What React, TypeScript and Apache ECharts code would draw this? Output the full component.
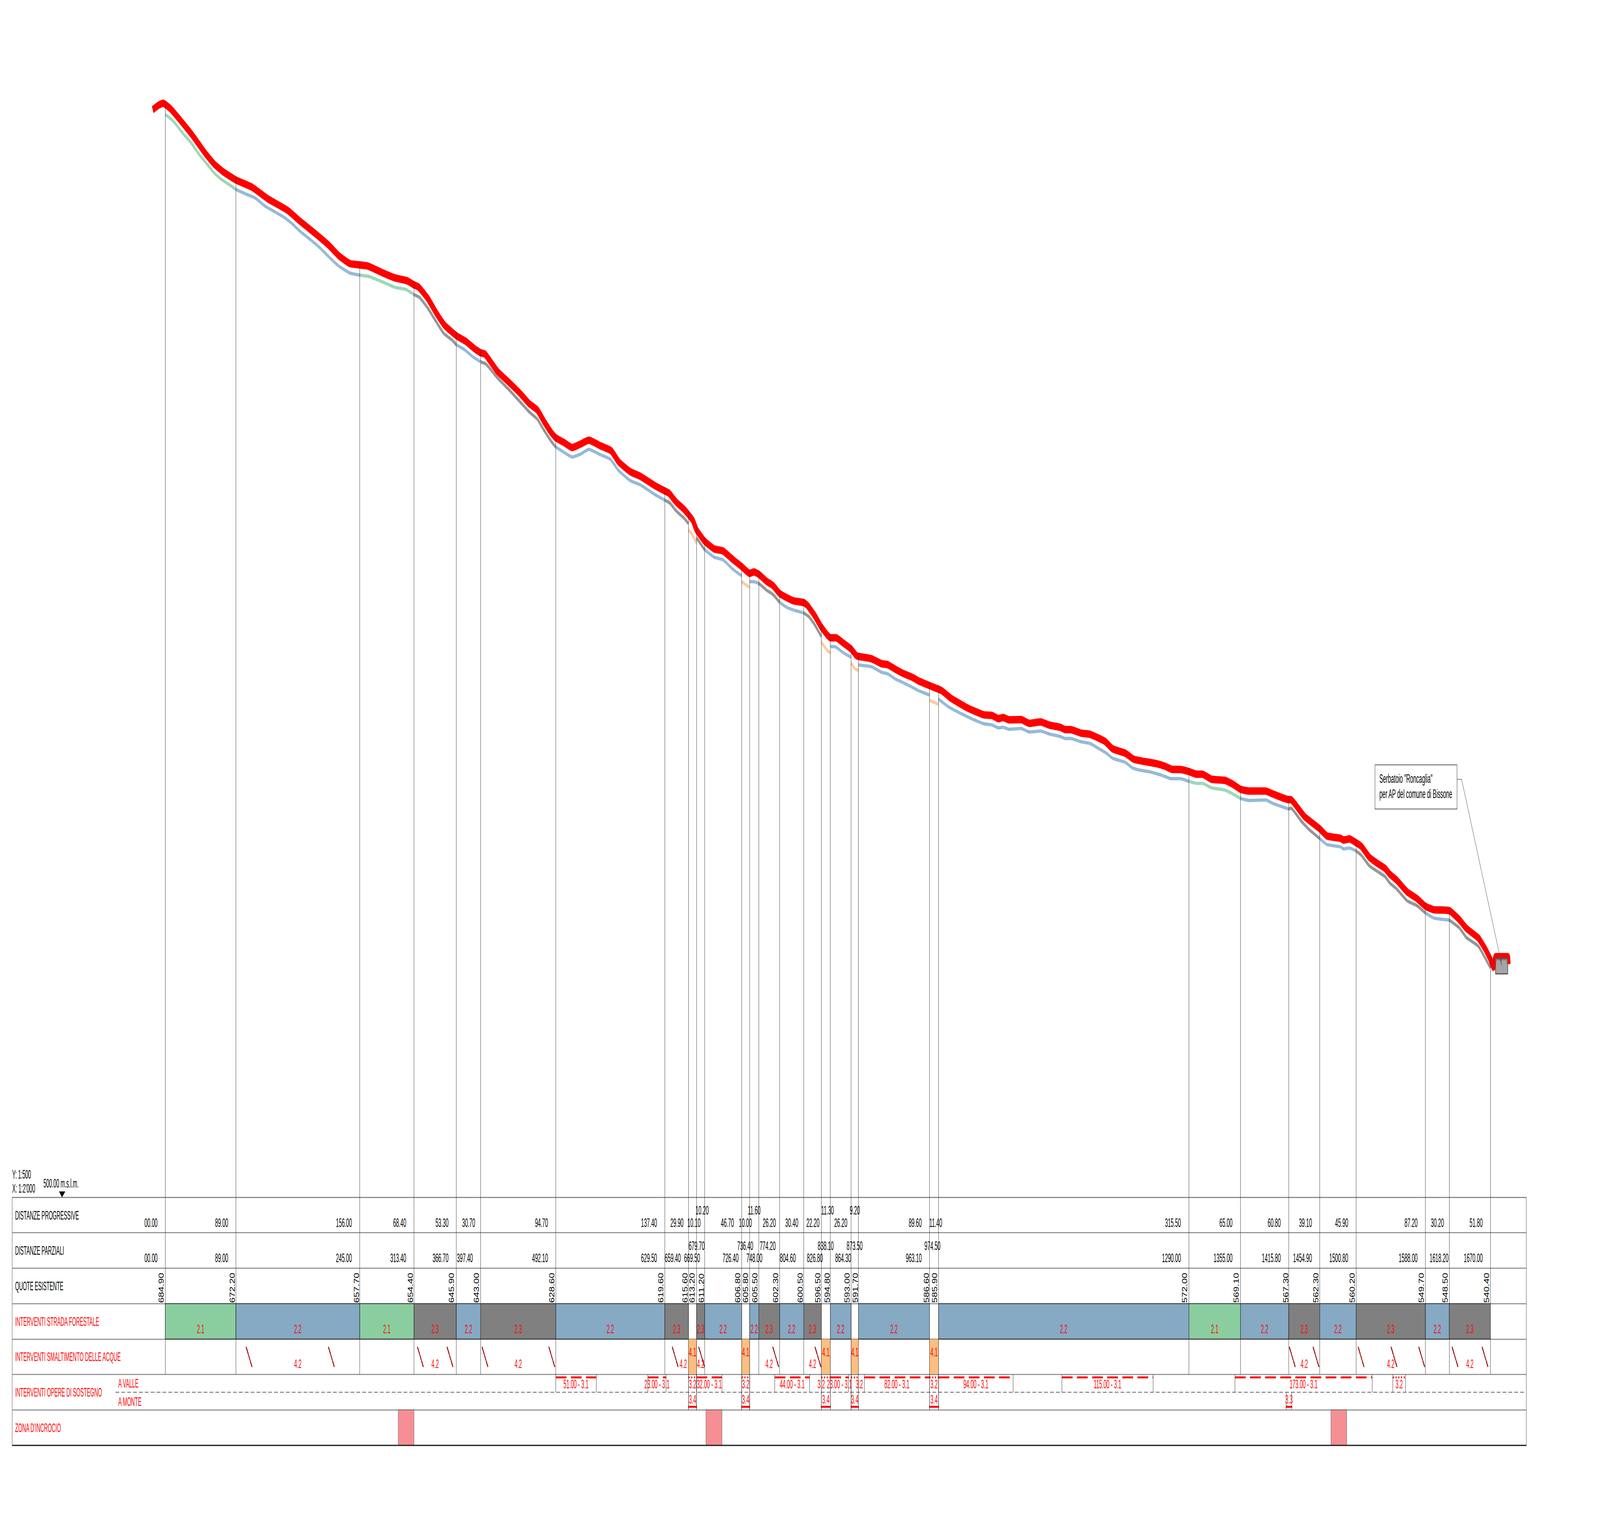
import React, { useEffect, useRef } from "react";
import * as echarts from "echarts";

// ---------- stations and table values ----------
const stations = [0, 89, 245, 313.4, 366.7, 397.4, 492.1, 629.5, 659.4, 669.5, 679.7, 726.4, 736.4, 748, 774.2, 804.6, 826.8, 838.1, 864.3, 873.5, 963.1, 974.5, 1290, 1355, 1415.8, 1454.9, 1500.8, 1588, 1618.2, 1670];
const rowOneLabels = ["00.00", "89.00", "156.00", "68.40", "53.30", "30.70", "94.70", "137.40", "29.90", "10.10", "10.20", "46.70", "10.00", "11.60", "26.20", "30.40", "22.20", "11.30", "26.20", "9.20", "89.60", "11.40", "315.50", "65.00", "60.80", "39.10", "45.90", "87.20", "30.20", "51.80"];
const rowTwoLabels = ["00.00", "89.00", "245.00", "313.40", "366.70", "397.40", "492.10", "629.50", "659.40", "669.50", "679.70", "726.40", "736.40", "748.00", "774.20", "804.60", "826.80", "838.10", "864.30", "873.50", "963.10", "974.50", "1290.00", "1355.00", "1415.80", "1454.90", "1500.80", "1588.00", "1618.20", "1670.00"];
const quoteLabels = ["684.90", "672.20", "657.70", "654.40", "645.90", "643.00", "628.60", "619.60", "615.60", "613.20", "611.20", "606.80", "605.80", "605.50", "602.30", "600.50", "596.50", "594.80", "593.00", "591.70", "586.60", "585.90", "572.00", "569.10", "567.30", "562.30", "560.20", "549.70", "548.50", "540.40"];
const roadTypes = ["2.1", "2.2", "2.1", "2.3", "2.2", "2.3", "2.2", "2.3", "", "2.3", "2.2", "", "2.2", "2.3", "2.2", "2.3", "", "2.2", "", "2.2", "", "2.2", "2.1", "2.2", "2.3", "2.2", "2.3", "2.2", "2.3"];
const rowTitles = ["DISTANZE PROGRESSIVE", "DISTANZE PARZIALI", "QUOTE ESISTENTE", "INTERVENTI STRADA FORESTALE", "INTERVENTI SMALTIMENTO DELLE ACQUE", "INTERVENTI OPERE DI SOSTEGNO", "ZONA D'INCROCIO"];
const orificeFrom = [659.4, 726.4, 826.8, 864.3, 963.1];
const orificeTo = [669.5, 736.4, 838.1, 873.5, 974.5];
const drainSlashes = [102, 205.7, 317.9, 355.2, 399.3, 483.5, 639, 672.3, 765.7, 818.9, 1416.7, 1446.6, 1503.4, 1544.9, 1579.8, 1621.8, 1659.6];
const drainLabels = [167, 340, 444.75, 652.7, 674.6, 761, 815.7, 1435.35, 1544.4, 1644.1];
const wallFrom = [492.1, 608.1, 669.5, 768, 838.1, 881, 974.5, 1129.9, 1348];
const wallLength = [51, 23, 32, 44, 23, 82, 94, 115, 173];
const dottedFrom = [659.4, 726.4, 826.8, 864.3, 963.1, 1547];
const dottedTo = [669.5, 736.4, 838.1, 873.5, 974.5, 1563];
const dottedLabelAt = [664.45, 731.4, 826.6, 874.7, 968.8, 1555];
const monteFrom = [659.4, 726.4, 826.8, 864.3, 963.1, 1412.6];
const monteTo = [669.5, 736.4, 838.1, 873.5, 974.5, 1419.6];
const monteLabels = ["3.4", "3.4", "3.4", "3.4", "3.4", "3.3"];
const zoneFrom = [293.6, 681.3, 1469];
const zoneTo = [313.4, 701.5, 1488.8];

// ---------- profile readings (distance in m, elevation in m) ----------
const groundDist = [0, 9.9, 22.1, 32.4, 42.5, 52.5, 61.6, 70.8, 80.8, 89, 101.2, 113.4, 125.5, 137.6, 149.6, 159.9, 170, 182.1, 194.3, 206.5, 218.5, 232.7, 245, 257, 269.2, 281.4, 289, 303.6, 313.4, 320.5, 330.8, 341.4, 350.7, 362.3, 366.7, 376.9, 387.4, 397.4, 404.1, 418.6, 433.4, 448, 458.5, 468.9, 477.4, 486.6, 492.1, 502.5, 512.8, 523.4, 533.7, 548.4, 561, 571.6, 586.1, 598.5, 617, 629.5, 635.9, 643.3, 654.4, 659.4, 669.5, 679.7, 691.6, 702.8, 715.7, 726.4, 736.4, 741.7, 748, 758.3, 765.7, 774.2, 782.4, 791.7, 804.6, 811.2, 818.6, 826.8, 838.1, 843.8, 853, 864.3, 873.5, 890, 902.8, 910.4, 919.7, 929.2, 938.8, 949.1, 963.1, 974.5, 987.7, 1000.9, 1016.2, 1031.3, 1041.7, 1050.1, 1055.8, 1063.4, 1078.4, 1088.9, 1103, 1114.4, 1127.6, 1134.3, 1140.9, 1154.1, 1165.5, 1176.9, 1186.1, 1193.8, 1209.9, 1218.4, 1225.8, 1241, 1256.2, 1267.5, 1278.7, 1290, 1299.6, 1307.1, 1318.4, 1335.6, 1344.8, 1355, 1365.7, 1386.5, 1395.9, 1415.8, 1418.6, 1424.2, 1431.9, 1441.4, 1454.9, 1463.9, 1481.1, 1484.8, 1492.4, 1500.8, 1507.5, 1517.3, 1528, 1537.2, 1543.3, 1551.6, 1565.2, 1577.4, 1588, 1598.7, 1618.2, 1630.6, 1639.7, 1654.9, 1670];
const groundElev = [684.9, 683.8, 681.7, 680.1, 678.15, 676.5, 675, 673.9, 673, 672.2, 671.45, 670.75, 669.4, 668.45, 667.5, 666.4, 665.1, 663.8, 662.4, 660.75, 659.25, 658.05, 657.7, 657.45, 656.8, 656.1, 655.65, 655.25, 654.4, 653.9, 652.1, 649.8, 647.85, 646.6, 645.9, 645.1, 643.9, 643, 642.65, 640.3, 638.25, 636.1, 634.55, 633.3, 631.4, 629.5, 628.6, 627.7, 626.9, 627.4, 628.2, 627.3, 626.5, 624.55, 622.9, 622.2, 620.55, 619.6, 619.1, 617.85, 616.45, 615.6, 613.2, 611.2, 609.95, 609.5, 607.85, 606.8, 605.8, 605.8, 605.5, 604.3, 603.65, 602.3, 601.5, 601, 600.5, 599.85, 598.45, 596.5, 594.8, 594.8, 593.9, 593, 591.7, 591.4, 590.45, 590.2, 589.35, 588.75, 588.1, 587.35, 586.6, 585.9, 584.55, 583.6, 582.6, 581.75, 581.55, 581.05, 581.15, 580.8, 580.95, 580.35, 580.5, 580, 579.6, 579.25, 579.25, 578.7, 578.4, 577.5, 576.75, 575.9, 575.2, 574.3, 573.95, 573.6, 573, 572.45, 572.45, 572, 571.65, 571.65, 570.9, 570.5, 569.9, 569.1, 568.75, 568.85, 568.25, 567.3, 567.45, 566.6, 565.2, 563.85, 562.3, 561.3, 560.9, 560.55, 560.7, 560.2, 559.45, 557.7, 556.7, 555.85, 554.75, 553.8, 551.75, 550.95, 549.7, 548.85, 548.5, 547.2, 545.55, 544.05, 540.4];
const bridgeDist = [[659.4, 664.7, 669.5], [726.4, 736.4], [826.8, 832.7, 838.1], [864.3, 868.9, 873.5], [963.1, 974.5]];
const bridgeElev = [[614.6, 613.65, 612.3], [605.8, 604.8], [595.55, 594.4, 593.7], [592, 591.1, 590.75], [585.7, 585.05]];
const redDist = [-15.9, -8.2, -2.8, 7, 22.1, 34.3, 50.5, 61.6, 72.8, 89, 109.1, 129.5, 153.8, 170, 190.2, 206.5, 218.5, 232.7, 254.9, 275.3, 289, 304.6, 313.4, 319.4, 330.8, 341.4, 351.7, 366.7, 379, 389.6, 397.4, 403.1, 418.6, 433.4, 448, 458.5, 468.9, 477.4, 486.6, 492.1, 502.5, 512.8, 523.4, 533.7, 548.4, 562, 571.6, 586.1, 598.5, 617, 629.5, 635, 643.3, 654.4, 664.7, 669.5, 679.7, 691.6, 702.8, 715.7, 726.4, 736.4, 741.7, 748, 758.3, 765.7, 774.2, 782.4, 791.7, 804.6, 809.4, 818.6, 826.8, 838.1, 845.6, 853, 864.3, 870.7, 873.5, 890, 902.8, 910.4, 919.7, 929.2, 942.4, 949.1, 963.1, 978.4, 989.7, 1010.5, 1031.3, 1041.7, 1050.1, 1055.8, 1063.4, 1078.4, 1088.9, 1103, 1114.4, 1127.6, 1134.3, 1140.9, 1154.1, 1165.5, 1184.3, 1193.8, 1209.9, 1220.2, 1229.8, 1248.5, 1259.9, 1269.4, 1278.7, 1290, 1299.6, 1307.1, 1318.4, 1335.6, 1344.8, 1354.9, 1365.7, 1386.5, 1395.9, 1415.6, 1418.6, 1424.2, 1435.6, 1454.9, 1463.9, 1481.1, 1484.8, 1492.4, 1500.7, 1507.5, 1517.3, 1528, 1537.2, 1543.3, 1551.6, 1565.2, 1577.4, 1588, 1598.7, 1618.2, 1630.6, 1639.7, 1654.9, 1663.9, 1670, 1673.8, 1674.9, 1676.4, 1692, 1692.8];
const redElev = [685.7, 686.5, 686.8, 685.8, 683.4, 681.35, 678.3, 676.5, 675.2, 673.8, 672.6, 670.6, 668.7, 666.8, 664.6, 662.7, 661, 659.65, 659.25, 658, 657.25, 656.75, 656.05, 655.65, 653.75, 651.3, 649.25, 647.45, 646.45, 645.25, 644.55, 644.3, 641.4, 639.5, 637.55, 635.95, 634.85, 632.9, 631, 630.15, 629.35, 628.5, 629.1, 629.75, 628.8, 627.95, 626.05, 624.4, 623.65, 622.05, 621.15, 620.75, 619.35, 617.95, 616.2, 614.55, 612.65, 611.35, 611, 609.5, 608.35, 607.2, 607.45, 607.05, 605.8, 605.15, 603.8, 603.15, 602.55, 602.25, 601.75, 600, 598.1, 596.3, 596.3, 595.55, 594.4, 593.3, 593.15, 592.75, 591.9, 591.75, 591, 590.3, 589.55, 589, 588.2, 587.35, 586.1, 584.45, 583.25, 583.15, 582.6, 582.8, 582.4, 582.45, 581.8, 582.05, 581.5, 581.15, 580.75, 580.75, 580.15, 579.95, 578.75, 577.5, 576.75, 575.75, 575.45, 575, 574.55, 574, 574, 573.65, 573.2, 573.2, 572.35, 572.15, 571.55, 570.65, 570.35, 570.35, 569.85, 568.9, 568.9, 568.05, 566.05, 563.95, 562.75, 562.35, 562.05, 562.25, 561.6, 560.95, 559.15, 558.05, 557.25, 556.25, 555.3, 553.25, 552.15, 550.85, 550.25, 550.1, 548.6, 547.1, 545.45, 543.5, 541.85, 540.5, 541.6, 542.3, 542.3, 541.05];

// ---------- layout constants (pixels, not data) ----------
const W = 7622, H = 3909;
const PX_PER_M = 3.78, PX_PER_ELEV = 15.12;
const ORIGIN_X = 787.5, ORIGIN_Y = 293, ORIGIN_ELEV = 684.9;
const TABLE = { left: 58, right: 7271, top: 3065, height: 635 };
const TABLE_TOP_ELEV = ORIGIN_ELEV - (TABLE.top - ORIGIN_Y) / PX_PER_ELEV;
const FONT = "Liberation Sans";
const EM = 32, NARROW = 0.78;
const rowOneNudge = [-37, -37, -37, -37, -37, -26, -37, -37, -24, 19, 19, -37, 11, 8, -18, -26, -9, 17, -18, 7, -37, 17, -38, -38, -38, -37, -38, -37, -26, -37];
const rowOneUp = [10, 13, 17, 19];
const rowTwoNudge = [-37, -37, -37, -37, -37, -37, -37, -37, -37, 17, 0, -15, 17, 17, -19, -38, 7, 16, 0, 20, -37, 9, -38, -38, -38, -37, -38, -37, -4, -37];
const rowTwoUp = [10, 12, 14, 17, 19, 21];
const quoteNudge = [-6.5, -5, -3, -5, -10, -8, -7, -7, -5, -8, -2, -6, -6, -6, -7, -3.7, -4.5, -3, -6.6, -3, -3, -6, -8, -7, -2, -6, -6, -6, -7, -6];
const roadFill: Record<string, string> = { "2.1": "#8ACE9F", "2.2": "#86A9C4", "2.3": "#808080" };
const lineColor: Record<string, string> = { "2.1": "#2FA866", "2.2": "#1F6AA5", "2.3": "#1a1a1a", bridge: "#F5922F" };
const RED = "#ff0000";

const redAt = (d: number) => {
  for (let i = 1; i < redDist.length; i++) {
    if (d <= redDist[i]) {
      const t = (d - redDist[i - 1]) / (redDist[i] - redDist[i - 1]);
      return redElev[i - 1] + t * (redElev[i] - redElev[i - 1]);
    }
  }
  return redElev[redElev.length - 1];
};

function segmentData(kind: string) {
  const out: any[] = [];
  if (kind === "bridge") {
    bridgeDist.forEach((ds, k) => {
      ds.forEach((d, i) => out.push([d, bridgeElev[k][i]]));
      out.push(["-", "-"]);
    });
    return out;
  }
  roadTypes.forEach((t, k) => {
    if (t !== kind) return;
    groundDist.forEach((d, i) => {
      if (d >= stations[k] && d <= stations[k + 1]) out.push([d, groundElev[i]]);
    });
    out.push(["-", "-"]);
  });
  return out;
}

type Txt = { d: number; row: number; dx?: number; dy: number; text: string; fill?: string; align?: string; rot?: number; em?: number; sx?: number };

function buildTexts(): Txt[] {
  const out: Txt[] = [];
  const lab = -189.3;
  rowTitles.forEach((t, i) => out.push({ d: lab, row: i === 6 ? 6 : i, dy: 57, text: t, fill: i < 3 ? "#000" : RED, align: "left", sx: 0.765 }));
  out.push({ d: -59.3, row: 5, dy: 33.4, text: "A VALLE", fill: RED, align: "left", sx: 0.765 });
  out.push({ d: -59.3, row: 5, dy: 81, text: "A MONTE", fill: RED, align: "left", sx: 0.765 });
  stations.forEach((d, i) => {
    out.push({ d, row: 0, dx: rowOneNudge[i], dy: rowOneUp.includes(i) ? 44 : 76, text: rowOneLabels[i], align: "right" });
    out.push({ d, row: 1, dx: rowTwoNudge[i], dy: rowTwoUp.includes(i) ? 45 : 75.5, text: rowTwoLabels[i], align: "right" });
    out.push({ d, row: 3, dx: quoteNudge[i], dy: -2, text: quoteLabels[i], align: "left", rot: Math.PI / 2, em: 35, sx: 0.72 });
  });
  roadTypes.forEach((t, k) => {
    if (t) out.push({ d: (stations[k] + stations[k + 1]) / 2, row: 3, dy: 76, text: t, fill: RED, align: "center" });
  });
  orificeFrom.forEach((a, i) => out.push({ d: (a + orificeTo[i]) / 2, row: 4, dy: 45, text: "4.1", fill: RED, align: "center" }));
  drainLabels.forEach((d) => out.push({ d, row: 4, dy: 75, text: "4.2", fill: RED, align: "center" }));
  wallFrom.forEach((a, i) => out.push({ d: a + wallLength[i] / 2, row: 5, dy: 35.5, text: `${wallLength[i].toFixed(2)} - 3.1`, fill: RED, align: "center" }));
  dottedLabelAt.forEach((d) => out.push({ d, row: 5, dy: 35.5, text: "3.2", fill: RED, align: "center" }));
  monteFrom.forEach((a, i) => out.push({ d: (a + monteTo[i]) / 2, row: 5, dy: 75, text: monteLabels[i], fill: RED, align: "center" }));
  return out;
}

function custom(grid: number, data: any[], z: number, render: (i: number, api: any) => any) {
  return {
    type: "custom",
    coordinateSystem: "cartesian2d",
    xAxisIndex: grid,
    yAxisIndex: grid,
    silent: true,
    z,
    data: data.map((_, i) => [i, i]),
    renderItem: (p: any, api: any) => render(p.dataIndex, api),
  };
}
const seg = (a: number[], b: number[], stroke: string, lineWidth: number, extra: any = {}) => ({
  type: "line",
  shape: { x1: a[0], y1: a[1], x2: b[0], y2: b[1] },
  style: { stroke, lineWidth, ...extra },
});
const box = (api: any, a: number, b: number, r0: number, r1: number, fill: string, stroke: string, lineWidth: number) => {
  const p = api.coord([a, r0]);
  const q = api.coord([b, r1]);
  return { type: "rect", shape: { x: p[0], y: p[1], width: q[0] - p[0], height: q[1] - p[1] }, style: { fill, stroke, lineWidth } };
};

export default function App() {
  const ref = useRef<HTMLDivElement>(null);
  // The browser window can come out narrower than asked for (it was capped at 4096 wide when this
  // was written), and only the window is photographed. The 7622x3909 drawing is fitted into
  // whatever window there is, so that nothing falls off the edge; at full size this is the identity.
  const fitX = Math.min(1, window.innerWidth / W);
  const fitY = Math.min(1, window.innerHeight / H);
  useEffect(() => {
    const chart = echarts.init(ref.current!, undefined, { renderer: "svg", width: W, height: H });
    const texts = buildTexts();
    const cells = roadTypes.map((t, k) => ({ t, a: stations[k], b: stations[k + 1] })).filter((c) => c.t);

    const lineLayers: any[] = [];
    ["2.1", "2.2", "2.3", "bridge"].forEach((k) => {
      const data = segmentData(k);
      const base = { type: "line", xAxisIndex: 0, yAxisIndex: 0, data, showSymbol: false, silent: true, smooth: 0.15, connectNulls: false, z: 2 };
      lineLayers.push({ ...base, lineStyle: { color: lineColor[k], width: 8.5, opacity: 0.3 } });
      lineLayers.push({ ...base, lineStyle: { color: lineColor[k], width: 8.5, opacity: 0.75, type: [1.4, 3.2] } });
    });

    const SLASH_TOP = 4.233, SLASH_BOTTOM = 4.773, SLASH_RUN = 7.1;

    chart.setOption({
      animation: false,
      backgroundColor: "#fff",
      grid: [
        { left: 0, top: 0, width: W, height: H, containLabel: false },
        { left: TABLE.left, top: TABLE.top, width: TABLE.right - TABLE.left, height: TABLE.height, show: true, borderColor: "#6a6a6a", borderWidth: 2, backgroundColor: "transparent" },
      ],
      xAxis: [
        { type: "value", gridIndex: 0, show: false, min: -ORIGIN_X / PX_PER_M, max: (W - ORIGIN_X) / PX_PER_M },
        { type: "value", gridIndex: 1, show: false, min: (TABLE.left - ORIGIN_X) / PX_PER_M, max: (TABLE.right - ORIGIN_X) / PX_PER_M },
      ],
      yAxis: [
        { type: "value", gridIndex: 0, show: false, min: ORIGIN_ELEV + (ORIGIN_Y - H) / PX_PER_ELEV, max: ORIGIN_ELEV + ORIGIN_Y / PX_PER_ELEV },
        {
          type: "value", gridIndex: 1, inverse: true, min: 0, max: 7, interval: 1,
          axisLine: { show: false }, axisTick: { show: false }, axisLabel: { show: false },
          splitLine: { show: true, lineStyle: { color: "#858585", width: 2.5 } },
        },
      ],
      series: [
        ...lineLayers,
        // design line
        {
          type: "line", xAxisIndex: 0, yAxisIndex: 0, showSymbol: false, silent: true, smooth: 0.15, z: 3,
          data: redDist.map((d, i) => [d, redElev[i]]),
          lineStyle: { color: RED, width: 19, join: "round", cap: "butt" },
        },
        // poles from the design line down to the table
        custom(0, stations, 4, (i, api) => seg(api.coord([stations[i], redAt(stations[i]) + 0.6]), api.coord([stations[i], TABLE_TOP_ELEV]), "#333", 1.6)),
        // road cells
        custom(1, cells, 2, (i, api) => box(api, cells[i].a, cells[i].b, 3, 4, roadFill[cells[i].t], "#333", 2)),
        // orifice cells
        custom(1, orificeFrom, 2, (i, api) => box(api, orificeFrom[i], orificeTo[i], 4, 5, "#FDBF80", "#7a6a55", 1.5)),
        // crossing zones
        custom(1, zoneFrom, 2, (i, api) => box(api, zoneFrom[i], zoneTo[i], 6, 7, "#F58F94", "#555", 1.5)),
        // poles in the table
        custom(1, stations, 3, (i, api) => {
          const deep = orificeFrom.includes(stations[i]) || orificeTo.includes(stations[i]);
          return seg(api.coord([stations[i], 0]), api.coord([stations[i], deep ? 6 : 5]), "#333", 1.6);
        }),
        // bottom line and dashed divider
        custom(1, [0], 3, (_i, api) => {
          const xMin = (TABLE.left - ORIGIN_X) / PX_PER_M, xMax = (TABLE.right - ORIGIN_X) / PX_PER_M;
          return {
            type: "group",
            children: [
              seg(api.coord([xMin, 7]), api.coord([xMax, 7]), "#222", 3),
              seg(api.coord([(550 - ORIGIN_X) / PX_PER_M, 5.5]), api.coord([xMax, 5.5]), "#333", 1.5, { lineDash: [18, 10] }),
            ],
          };
        }),
        // drainage slashes
        custom(1, drainSlashes, 4, (i, api) =>
          seg(api.coord([drainSlashes[i], SLASH_TOP]), api.coord([drainSlashes[i] + SLASH_RUN, SLASH_BOTTOM]), "#990000", 4, { lineDash: [20, 4, 2, 3, 2, 3, 2, 4, 20, 200], lineCap: "round" })
        ),
        // retaining walls, valley side
        custom(1, wallFrom, 4, (i, api) => {
          const a = wallFrom[i], b = a + wallLength[i];
          const top = api.coord([a, 5]), top2 = api.coord([b, 5]);
          return {
            type: "group",
            children: [
              seg([top[0], top[1] + 7.5], [top2[0], top2[1] + 7.5], RED, 5, { lineDash: [51, 21] }),
              seg(top, api.coord([a, 5.5]), "#222", 1.5),
              seg(top2, api.coord([b, 5.5]), "#222", 1.5),
            ],
          };
        }),
        custom(1, dottedFrom, 4, (i, api) => {
          const top = api.coord([dottedFrom[i], 5]), top2 = api.coord([dottedTo[i], 5]);
          return {
            type: "group",
            children: [
              seg([top[0], top[1] + 7.5], [top2[0] + 2, top2[1] + 7.5], RED, 5, { lineDash: [5, 8] }),
              seg(top, api.coord([dottedFrom[i], 5.5]), "#222", 1.5),
              seg(top2, api.coord([dottedTo[i], 5.5]), "#222", 1.5),
            ],
          };
        }),
        // retaining walls, uphill side
        custom(1, monteFrom, 4, (i, api) => {
          const bot = api.coord([monteFrom[i], 6]), bot2 = api.coord([monteTo[i], 6]);
          return {
            type: "group",
            children: [
              seg([bot[0] - 2, bot[1] - 8], [bot2[0] + 2, bot2[1] - 8], RED, 5),
              seg(api.coord([monteFrom[i], 5.5]), bot, "#222", 1.5),
              seg(api.coord([monteTo[i], 5.5]), bot2, "#222", 1.5),
            ],
          };
        }),
        // all table texts
        custom(1, texts, 6, (i, api) => {
          const t = texts[i];
          const p = api.coord([t.d, t.row]);
          const em = t.em ?? EM;
          const rot = t.rot ?? 0;
          const shift = 0.36 * em;
          return {
            type: "text",
            x: p[0] + (t.dx ?? 0) - (rot ? shift : 0),
            y: p[1] + t.dy - (rot ? 0 : shift),
            rotation: rot,
            scaleX: t.sx ?? NARROW,
            style: { text: t.text, x: 0, y: 0, fill: t.fill ?? "#000", fontSize: em, fontFamily: FONT, align: t.align ?? "left", verticalAlign: "middle" },
          };
        }),
      ],
      graphic: [
        { type: "text", x: 58, y: 3006, scaleX: 0.765, style: { text: "Y: 1:500", fill: "#000", fontSize: 32, fontFamily: FONT, verticalAlign: "middle" }, silent: true },
        { type: "text", x: 58, y: 3042, scaleX: 0.765, style: { text: "X: 1:2'000", fill: "#000", fontSize: 32, fontFamily: FONT, verticalAlign: "middle" }, silent: true },
        { type: "text", x: 207, y: 3029, scaleX: 0.765, style: { text: "500.00 m.s.l.m.", fill: "#000", fontSize: 32, fontFamily: FONT, verticalAlign: "middle" }, silent: true },
        { type: "polygon", shape: { points: [[281, 3050], [311, 3050], [295.5, 3065]] }, style: { fill: "#000" }, silent: true },
        // reservoir
        { type: "rect", z: 10, shape: { x: 7124.5, y: 2453.5, width: 58, height: 39.5 }, style: { fill: "rgba(140,140,140,0.78)", stroke: "#555", lineWidth: 3 }, silent: true },
        // callout
        { type: "rect", z: 10, shape: { x: 6550, y: 1958, width: 391, height: 113 }, style: { fill: "#fff", stroke: "#777", lineWidth: 2.5 }, silent: true },
        { type: "polyline", z: 11, shape: { points: [[6941, 1995], [6962.6, 1995], [7148, 2455]] }, style: { stroke: "#555", lineWidth: 1.6, fill: "none" }, silent: true },
        { type: "polygon", z: 11, shape: { points: [[7153.7, 2474], [7143.5, 2451], [7151.5, 2449]] }, style: { fill: "#555" }, silent: true },
        { type: "text", z: 11, x: 6571, y: 1993, scaleX: 0.84, style: { text: 'Serbatoio "Roncaglia"', fill: "#000", fontSize: 31, fontFamily: FONT, verticalAlign: "middle" }, silent: true },
        { type: "text", z: 11, x: 6571, y: 2032, scaleX: 0.84, style: { text: "per AP del comune di Bissone", fill: "#000", fontSize: 31, fontFamily: FONT, verticalAlign: "middle" }, silent: true },
      ],
    });
    return () => chart.dispose();
  }, []);
  return (
    <div
      ref={ref}
      style={{
        position: "absolute",
        left: 0,
        top: 0,
        width: W,
        height: H,
        background: "#fff",
        transformOrigin: "0 0",
        transform: `scale(${fitX}, ${fitY})`,
      }}
    />
  );
}
